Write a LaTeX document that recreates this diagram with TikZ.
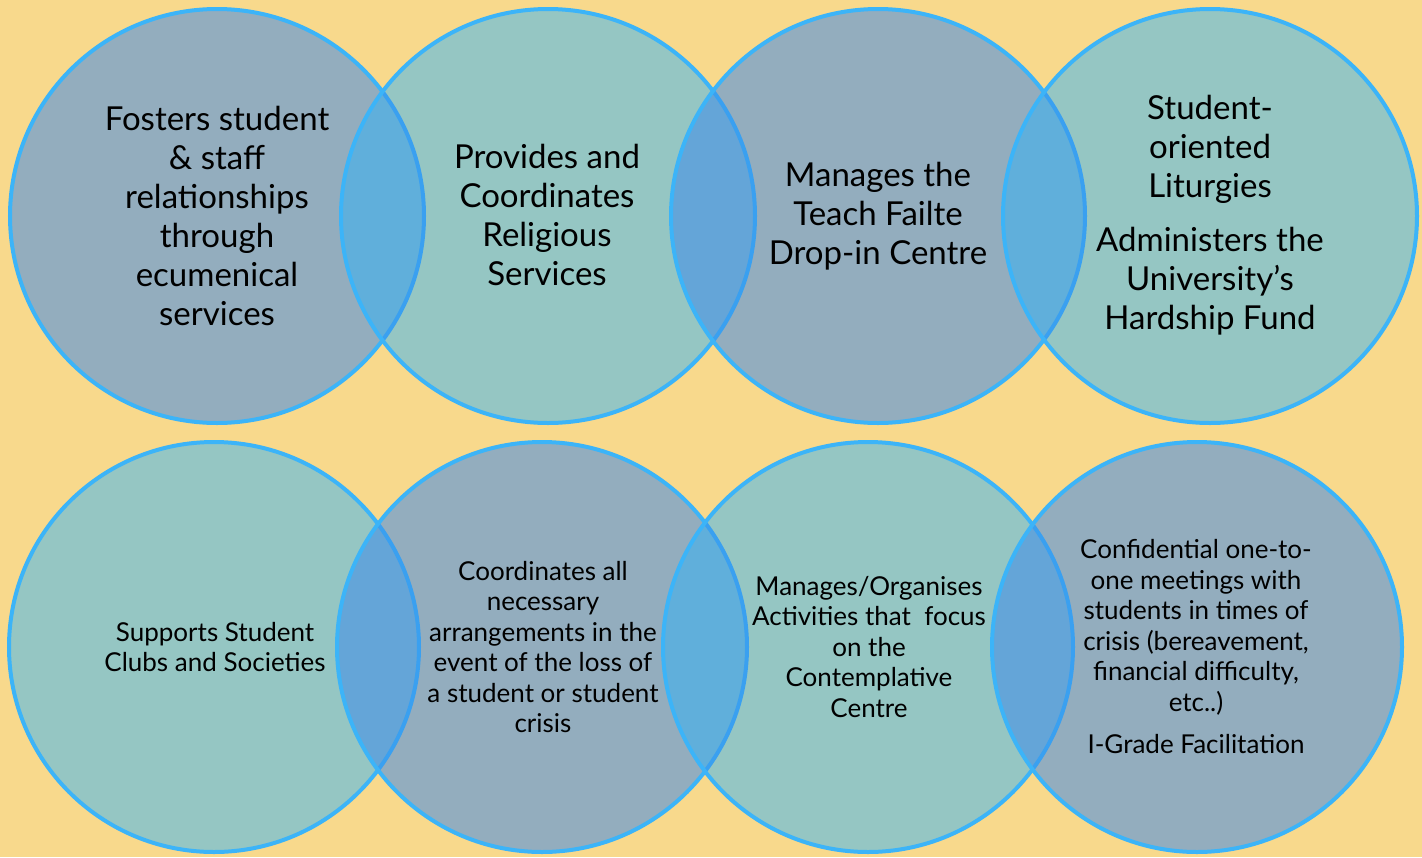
\documentclass[tikz,border=0pt]{standalone}
\usepackage{fontspec}
\setmainfont{Lato}
\definecolor{bg}{HTML}{F8D98C}
\definecolor{cdark}{HTML}{93ADBE}
\definecolor{clight}{HTML}{95C6C3}
\definecolor{ovlight}{HTML}{60AFDB}
\definecolor{ovdark}{HTML}{64A5D8}
\definecolor{rim}{HTML}{3CB4F8}
\definecolor{rimdim}{HTML}{3AA0F0}
\tikzset{
  rimline/.style={draw=rim, line width=4pt},
  rimunder/.style={draw=rimdim, line width=4pt},
  bigtxt/.style={align=center, font=\fontsize{33}{39}\selectfont, text=black, inner sep=0pt},
  smalltxt/.style={align=center, font=\fontsize{26}{30.5}\selectfont, text=black, inner sep=0pt}
}
\begin{document}
\begin{tikzpicture}[x=1pt,y=-1pt]
\fill[bg] (0,0) rectangle (1422,857);
\useasboundingbox (0,0) rectangle (1422,857);
% ---------- top row ----------
\def\R{207}
\fill[cdark] (217,216) circle (\R);
\draw[rimline] (217,216) circle (\R);
\fill[clight] (548,216) circle (\R);
\begin{scope}
 \clip (548,216) circle (\R);
 \fill[ovlight] (217,216) circle (\R);
 \draw[rimunder] (217,216) circle (\R);
\end{scope}
\draw[rimline] (548,216) circle (\R);
\fill[cdark] (878,216) circle (\R);
\begin{scope}
 \clip (878,216) circle (\R);
 \fill[ovdark] (548,216) circle (\R);
 \draw[rimunder] (548,216) circle (\R);
\end{scope}
\draw[rimline] (878,216) circle (\R);
\fill[clight] (1210,216) circle (\R);
\begin{scope}
 \clip (1210,216) circle (\R);
 \fill[ovlight] (878,216) circle (\R);
 \draw[rimunder] (878,216) circle (\R);
\end{scope}
\draw[rimline] (1210,216) circle (\R);
% ---------- bottom row ----------
\def\r{205}
\fill[clight] (214,647) circle (\r);
\draw[rimline] (214,647) circle (\r);
\fill[cdark] (542,647) circle (\r);
\begin{scope}
 \clip (542,647) circle (\r);
 \fill[ovdark] (214,647) circle (\r);
 \draw[rimunder] (214,647) circle (\r);
\end{scope}
\draw[rimline] (542,647) circle (\r);
\fill[clight] (868,647) circle (\r);
\begin{scope}
 \clip (868,647) circle (\r);
 \fill[ovlight] (542,647) circle (\r);
 \draw[rimunder] (542,647) circle (\r);
\end{scope}
\draw[rimline] (868,647) circle (\r);
\fill[cdark] (1197,647) circle (\r);
\begin{scope}
 \clip (1197,647) circle (\r);
 \fill[ovdark] (868,647) circle (\r);
 \draw[rimunder] (868,647) circle (\r);
\end{scope}
\draw[rimline] (1197,647) circle (\r);
% ---------- texts ----------
\node[bigtxt] (t1) at (217,216) {Fosters student\\\& staff\\relationships\\through\\ecumenical\\services};
\node[bigtxt] (t2) at (547,215) {Provides and\\Coordinates\\Religious\\Services};
\node[bigtxt] (t3) at (878,216) {Manages the\\Teach Failte\\Drop-in Centre};
\node[bigtxt] (t4) at (1210,215) {Student-\\oriented\\Liturgies\\[15pt]Administers the\\University’s\\Hardship Fund};
\node[smalltxt] (b1) at (215,647) {Supports Student\\Clubs and Societies};
\node[smalltxt] (b2) at (543,647) {Coordinates all\\necessary\\arrangements in the\\event of the loss of\\a student or student\\crisis};
\node[smalltxt] (b3) at (869,647) {Manages/Organises\\Activities that\ \ focus\\on the\\Contemplative\\Centre};
\node[smalltxt] (b4) at (1196,647) {Confidential one-to-\\one meetings with\\students in times of\\crisis (bereavement,\\financial difficulty,\\etc..)\\[12pt]I-Grade Facilitation};
\end{tikzpicture}
\end{document}
